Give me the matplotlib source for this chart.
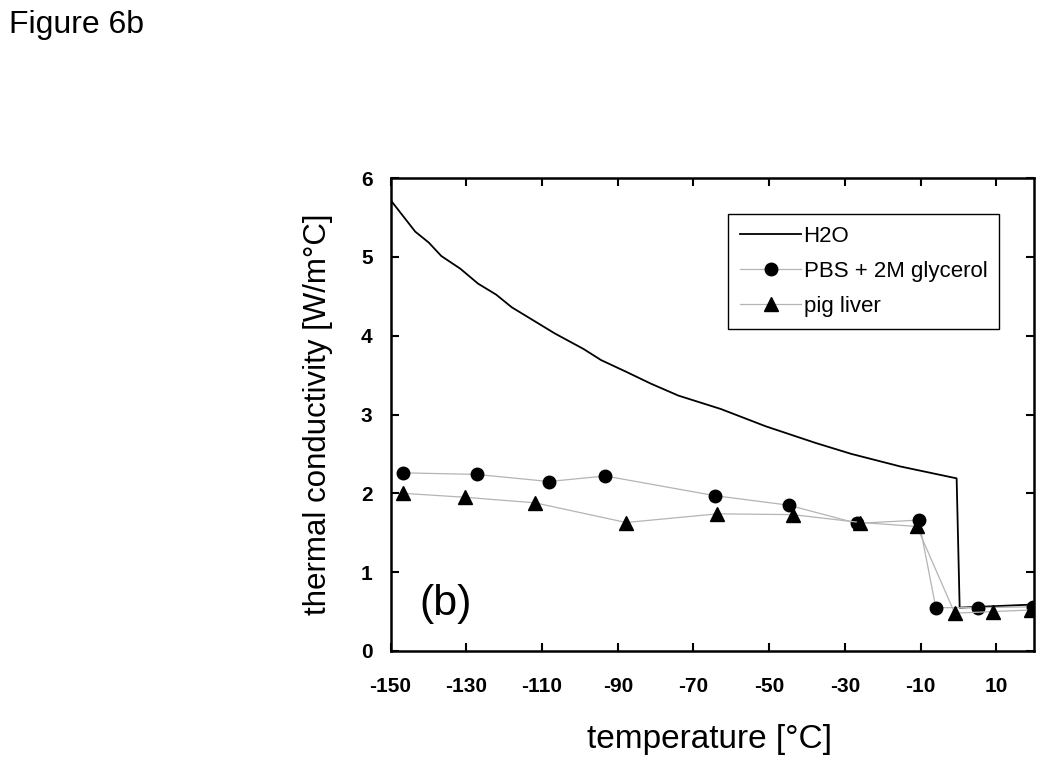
import matplotlib
matplotlib.use("Agg")
import matplotlib.pyplot as plt

plt.rcParams['font.family'] = ['Liberation Sans', 'DejaVu Sans']

# H2O reference curve
h2o_t = [-150, -143.5, -139.9, -136.6, -131.6, -126.9, -122.1, -118.0, -110.8, -106.7,
         -99.0, -94.4, -87.7, -81.2, -74.0, -62.8, -50.9, -37.8, -28.3, -15.3, -0.5, 0.3, 20]
h2o_k = [5.72, 5.32, 5.18, 5.01, 4.85, 4.66, 4.52, 4.36, 4.15, 4.03,
         3.83, 3.69, 3.54, 3.39, 3.24, 3.07, 2.85, 2.64, 2.50, 2.34, 2.19, 0.55, 0.59]

# PBS + 2M glycerol
pbs_t = [-146.6, -127.3, -108.2, -93.3, -64.3, -44.9, -26.8, -10.5, -6.0, 5.2, 19.7]
pbs_k = [2.26, 2.24, 2.15, 2.22, 1.97, 1.85, 1.62, 1.66, 0.55, 0.55, 0.56]

# pig liver
liver_t = [-146.6, -130.4, -111.9, -87.8, -63.7, -43.8, -25.9, -11.0, -1.0, 9.1, 19.2]
liver_k = [2.00, 1.95, 1.88, 1.63, 1.74, 1.73, 1.63, 1.58, 0.48, 0.50, 0.52]

xticks = [-150, -130, -110, -90, -70, -50, -30, -10, 10]
yticks = [0, 1, 2, 3, 4, 5, 6]

fig = plt.figure(figsize=(10.5, 7.7), dpi=100)
ax = fig.add_axes([0.372, 1 - 651 / 770, 0.613, (651 - 178) / 770])

ax.plot(h2o_t, h2o_k, color='black', lw=1.3, label='H2O')
ax.plot(pbs_t, pbs_k, color='#b4b4b4', lw=0.9, marker='o', markersize=9,
        markerfacecolor='black', markeredgecolor='black', label='PBS + 2M glycerol')
ax.plot(liver_t, liver_k, color='#b4b4b4', lw=0.9, marker='^', markersize=9.5,
        markerfacecolor='black', markeredgecolor='black', label='pig liver')

ax.set_xlim(-150, 20)
ax.set_ylim(0, 6)
ax.set_xticks(xticks)
ax.set_yticks(yticks)
ax.set_xticklabels([str(v) for v in xticks], fontweight='bold', fontsize=15)
ax.set_yticklabels([str(v) for v in yticks], fontweight='bold', fontsize=15)
ax.tick_params(direction='in', length=5.5, width=1.5, top=True, right=True)
ax.tick_params(axis='x', pad=19)
ax.tick_params(axis='y', pad=13)
for s in ax.spines.values():
    s.set_linewidth(1.8)

ax.set_xlabel('temperature [°C]', fontsize=24)
ax.set_ylabel('thermal conductivity [W/m°C]', fontsize=22.5)
ax.xaxis.set_label_coords(0.496, -0.155)
ax.yaxis.set_label_coords(-0.09, 0.5)

ax.text(0.045, 0.076, '(b)', transform=ax.transAxes, fontsize=31, va='baseline')

leg = ax.legend(loc='upper right', bbox_to_anchor=(0.946, 0.924), fontsize=16,
                frameon=True, fancybox=False, edgecolor='black', framealpha=1,
                borderpad=0.55, labelspacing=0.62, handlelength=2.75, handletextpad=0.1,
                borderaxespad=0)
leg.get_frame().set_linewidth(1.0)

fig.text(0.009, 1 - 33 / 770, 'Figure 6b', fontsize=23, va='baseline', ha='left')

fig.savefig('out.png', dpi=100)
